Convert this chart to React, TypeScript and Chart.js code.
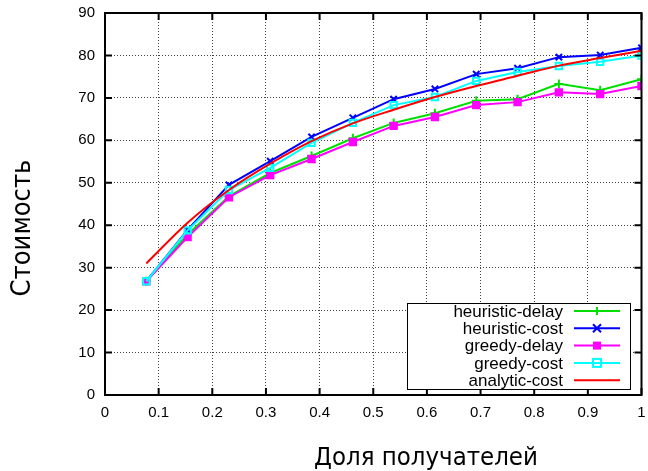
import React, { useEffect, useRef } from "react";
import { Chart, registerables } from "chart.js";

Chart.register(...registerables);

const xValues = [0.077, 0.154, 0.231, 0.308, 0.385, 0.462, 0.538, 0.615, 0.692, 0.769, 0.846, 0.923, 1.0];
const heuristicDelay = [26.8, 37.8, 46.8, 52.3, 56.3, 60.5, 64.1, 66.4, 69.3, 69.7, 73.3, 71.8, 74.4];
const heuristicCost = [26.8, 38.9, 49.5, 55.1, 60.8, 65.3, 69.7, 72.1, 75.6, 77.0, 79.6, 80.1, 81.8];
const greedyDelay = [26.8, 37.2, 46.6, 51.8, 55.6, 59.6, 63.4, 65.5, 68.3, 69.0, 71.3, 70.9, 72.8];
const greedyCost = [26.8, 38.8, 48.3, 53.5, 59.4, 64.1, 68.3, 70.2, 74.0, 76.1, 77.5, 78.5, 80.0];
const analyticCost = [31.0, 40.6, 48.3, 54.5, 59.8, 64.0, 67.2, 70.2, 72.8, 75.2, 77.6, 79.4, 81.1];

const seriesNames = ["heuristic-delay", "heuristic-cost", "greedy-delay", "greedy-cost", "analytic-cost"];
const seriesColors = ["#00e000", "#0000ff", "#ff00ff", "#00ffff", "#ff0000"];
const seriesPoints = ["cross", "crossRot", "rect", "rectOpen", "none"];

const xTitle = "Доля получателей";
const yTitle = "Стоимость";

const toPts = (ys: number[]) => ys.map((y, i) => ({ x: xValues[i], y }));

function drawMarker(ctx: CanvasRenderingContext2D, kind: string, x: number, y: number, color: string) {
  ctx.save();
  ctx.strokeStyle = color;
  ctx.fillStyle = color;
  ctx.lineWidth = 2;
  const r = 4;
  ctx.beginPath();
  if (kind === "cross") {
    ctx.moveTo(x - r, y); ctx.lineTo(x + r, y);
    ctx.moveTo(x, y - r); ctx.lineTo(x, y + r);
    ctx.stroke();
  } else if (kind === "crossRot") {
    ctx.moveTo(x - r, y - r); ctx.lineTo(x + r, y + r);
    ctx.moveTo(x - r, y + r); ctx.lineTo(x + r, y - r);
    ctx.stroke();
  } else if (kind === "rect") {
    ctx.fillRect(x - r, y - r, 2 * r, 2 * r);
  } else if (kind === "rectOpen") {
    ctx.strokeRect(x - r, y - r, 2 * r, 2 * r);
  }
  ctx.restore();
}

const framePlugin = {
  id: "framePlugin",
  afterDatasetsDraw(chart: any) {
    const { ctx, chartArea } = chart;
    const { left, right, top, bottom } = chartArea;
    const xs = chart.scales.x;
    const ys = chart.scales.y;
    ctx.save();
    ctx.strokeStyle = "#000";
    ctx.lineWidth = 2;
    const tl = 7;
    ctx.beginPath();
    xs.ticks.forEach((t: any) => {
      const px = xs.getPixelForValue(t.value);
      ctx.moveTo(px, bottom); ctx.lineTo(px, bottom - tl);
      ctx.moveTo(px, top); ctx.lineTo(px, top + tl);
    });
    ys.ticks.forEach((t: any) => {
      const py = ys.getPixelForValue(t.value);
      ctx.moveTo(left, py); ctx.lineTo(left + tl, py);
      ctx.moveTo(right, py); ctx.lineTo(right - tl, py);
    });
    ctx.stroke();
    ctx.lineWidth = 2;
    ctx.strokeRect(left, top, right - left, bottom - top);

    // legend
    const bx = 407, by = 303, bw = 223, bh = 86;
    ctx.fillStyle = "#fff";
    ctx.fillRect(bx, by, bw, bh);
    ctx.lineWidth = 1;
    ctx.strokeStyle = "#000";
    ctx.strokeRect(bx + 0.5, by + 0.5, bw, bh);
    ctx.font = "17px 'Liberation Sans', Arial, sans-serif";
    ctx.textAlign = "right";
    ctx.textBaseline = "middle";
    seriesNames.forEach((name, i) => {
      const y = 311 + i * 17.3;
      ctx.fillStyle = "#000";
      ctx.fillText(name, 563, y + 1);
      ctx.strokeStyle = seriesColors[i];
      ctx.lineWidth = 2;
      ctx.beginPath();
      ctx.moveTo(574, y); ctx.lineTo(620, y);
      ctx.stroke();
      drawMarker(ctx, seriesPoints[i], 597, y, seriesColors[i]);
    });

    // titles
    ctx.fillStyle = "#000";
    ctx.font = "25.5px 'DejaVu Sans Condensed', 'DejaVu Sans', sans-serif";
    ctx.textAlign = "center";
    ctx.textBaseline = "alphabetic";
    ctx.fillText(xTitle, 426, 465);
    ctx.font = "27px 'DejaVu Sans Condensed', 'DejaVu Sans', sans-serif";
    ctx.translate(30, 228);
    ctx.rotate(-Math.PI / 2);
    ctx.fillText(yTitle, 0, 0);
    ctx.restore();
  },
};

export default function App() {
  const ref = useRef<HTMLCanvasElement>(null);
  useEffect(() => {
    if (!ref.current) return;
    const mk = (i: number, data: number[]) => {
      const p = seriesPoints[i];
      return {
        label: seriesNames[i],
        data: toPts(data),
        borderColor: seriesColors[i],
        backgroundColor: p === "rectOpen" ? "rgba(0,0,0,0)" : seriesColors[i],
        borderWidth: 2,
        pointStyle: p === "rectOpen" ? "rect" : p === "none" ? false : p,
        pointRadius: p === "none" ? 0 : 4.5,
        pointBorderWidth: 2,
        tension: p === "none" ? 0.4 : 0,
        cubicInterpolationMode: p === "none" ? "monotone" : "default",
        order: 5 - i,
      };
    };
    const noPad = (s: any) => {
      s.paddingTop = 0; s.paddingBottom = 0; s.paddingLeft = 0; s.paddingRight = 0;
    };
    const chart = new Chart(ref.current, {
      type: "line",
      data: {
        datasets: [
          mk(0, heuristicDelay),
          mk(1, heuristicCost),
          mk(2, greedyDelay),
          mk(3, greedyCost),
          mk(4, analyticCost),
        ] as any,
      },
      options: {
        animation: false,
        responsive: false,
        layout: { padding: { top: 13, right: 6, left: 0, bottom: 0 } },
        plugins: { legend: { display: false }, tooltip: { enabled: false } },
        scales: {
          x: {
            type: "linear",
            min: 0,
            max: 1,
            afterFit: (s: any) => { s.height = 76; noPad(s); },
            ticks: {
              stepSize: 0.1,
              color: "#000",
              padding: 9,
              font: { family: "'Liberation Sans', Arial, sans-serif", size: 15 },
              callback: (v: any) => String(Number(Number(v).toFixed(1))),
            },
            grid: { color: "#444", lineWidth: 1, drawTicks: false },
            border: { display: false, dash: [1, 2] },
          },
          y: {
            min: 0,
            max: 90,
            afterFit: (s: any) => { s.width = 105; noPad(s); },
            ticks: {
              stepSize: 10,
              color: "#000",
              padding: 10,
              font: { family: "'Liberation Sans', Arial, sans-serif", size: 15 },
            },
            grid: { color: "#444", lineWidth: 1, drawTicks: false },
            border: { display: false, dash: [1, 2] },
          },
        },
      } as any,
      plugins: [framePlugin],
    });
    return () => chart.destroy();
  }, []);
  return (
    <div style={{ position: "absolute", left: 0, top: 0, width: 648, height: 471, background: "#fff" }}>
      <canvas ref={ref} width={648} height={471} style={{ width: 648, height: 471, display: "block" }} />
    </div>
  );
}
